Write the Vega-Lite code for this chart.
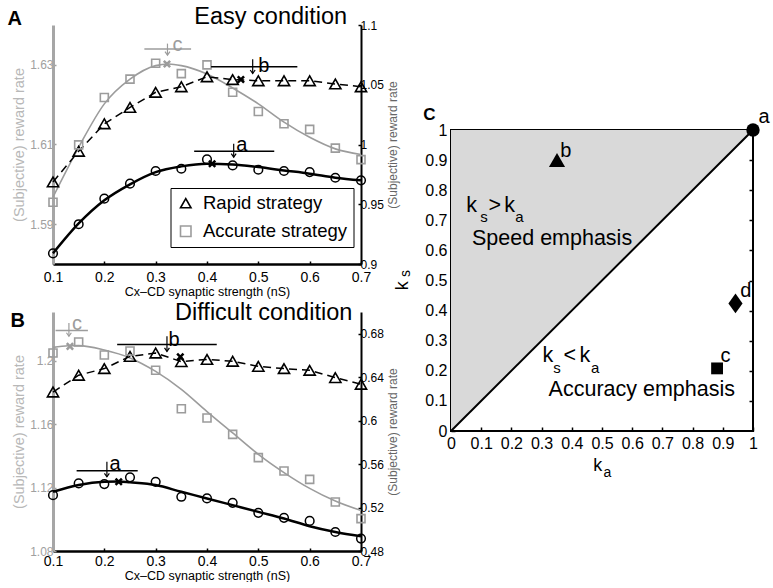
{
"$schema": "https://vega.github.io/schema/vega-lite/v6.json",
"padding": {"left": 7, "top": 4, "right": 0, "bottom": 0},
"background": "white",
"config": {
  "font": "Liberation Sans",
  "view": {"stroke": null},
  "axis": {"grid": false, "labelFlush": false, "labelOverlap": false, "titleFontWeight": "normal", "labelColor": "black", "titleColor": "black", "domainColor": "black", "tickColor": "black", "labelFont": "Liberation Sans", "titleFont": "Liberation Sans"}
},
"datasets": {
  "A_pts": [
    {"x":0.1,"y":1.6006,"s":"Rapid strategy"},{"x":0.15,"y":1.6083,"s":"Rapid strategy"},{"x":0.2,"y":1.6152,"s":"Rapid strategy"},{"x":0.25,"y":1.6193,"s":"Rapid strategy"},{"x":0.3,"y":1.6231,"s":"Rapid strategy"},{"x":0.35,"y":1.6245,"s":"Rapid strategy"},{"x":0.4,"y":1.627,"s":"Rapid strategy"},{"x":0.45,"y":1.6263,"s":"Rapid strategy"},{"x":0.5,"y":1.626,"s":"Rapid strategy"},{"x":0.55,"y":1.626,"s":"Rapid strategy"},{"x":0.6,"y":1.626,"s":"Rapid strategy"},{"x":0.65,"y":1.6252,"s":"Rapid strategy"},{"x":0.7,"y":1.6245,"s":"Rapid strategy"},
    {"x":0.1,"y":1.5955,"s":"Accurate strategy"},{"x":0.15,"y":1.6099,"s":"Accurate strategy"},{"x":0.2,"y":1.6218,"s":"Accurate strategy"},{"x":0.25,"y":1.6264,"s":"Accurate strategy"},{"x":0.3,"y":1.6304,"s":"Accurate strategy"},{"x":0.35,"y":1.6278,"s":"Accurate strategy"},{"x":0.4,"y":1.63,"s":"Accurate strategy"},{"x":0.45,"y":1.6231,"s":"Accurate strategy"},{"x":0.5,"y":1.6183,"s":"Accurate strategy"},{"x":0.55,"y":1.6152,"s":"Accurate strategy"},{"x":0.6,"y":1.6138,"s":"Accurate strategy"},{"x":0.65,"y":1.6091,"s":"Accurate strategy"},{"x":0.7,"y":1.6062,"s":"Accurate strategy"}
  ],
  "A_gc": [
    {"x":0.1,"y":1.5968},{"x":0.15,"y":1.6093},{"x":0.2,"y":1.6202},{"x":0.25,"y":1.6264},{"x":0.3,"y":1.6298},{"x":0.325,"y":1.6302},{"x":0.35,"y":1.6298},{"x":0.4,"y":1.6277},{"x":0.45,"y":1.6242},{"x":0.5,"y":1.6202},{"x":0.55,"y":1.6156},{"x":0.6,"y":1.6118},{"x":0.65,"y":1.6089},{"x":0.7,"y":1.6075}
  ],
  "A_circ": [
    {"x":0.1,"y":0.9089},{"x":0.15,"y":0.9333},{"x":0.2,"y":0.9547},{"x":0.25,"y":0.9672},{"x":0.3,"y":0.9778},{"x":0.35,"y":0.9797},{"x":0.4,"y":0.9875},{"x":0.45,"y":0.9825},{"x":0.5,"y":0.9789},{"x":0.55,"y":0.9778},{"x":0.6,"y":0.9769},{"x":0.65,"y":0.9722},{"x":0.7,"y":0.97}
  ],
  "A_bc": [
    {"x":0.1,"y":0.9089},{"x":0.15,"y":0.9339},{"x":0.2,"y":0.9533},{"x":0.25,"y":0.9667},{"x":0.3,"y":0.9769},{"x":0.35,"y":0.9817},{"x":0.4,"y":0.9839},{"x":0.45,"y":0.9833},{"x":0.5,"y":0.9811},{"x":0.55,"y":0.9783},{"x":0.6,"y":0.9756},{"x":0.65,"y":0.9722},{"x":0.7,"y":0.97}
  ],
  "B_pts": [
    {"x":0.1,"y":1.1803,"s":"Rapid strategy"},{"x":0.15,"y":1.1909,"s":"Rapid strategy"},{"x":0.2,"y":1.1951,"s":"Rapid strategy"},{"x":0.25,"y":1.2028,"s":"Rapid strategy"},{"x":0.3,"y":1.2049,"s":"Rapid strategy"},{"x":0.35,"y":1.1995,"s":"Rapid strategy"},{"x":0.4,"y":1.2009,"s":"Rapid strategy"},{"x":0.45,"y":1.1997,"s":"Rapid strategy"},{"x":0.5,"y":1.1965,"s":"Rapid strategy"},{"x":0.55,"y":1.1951,"s":"Rapid strategy"},{"x":0.6,"y":1.194,"s":"Rapid strategy"},{"x":0.65,"y":1.1894,"s":"Rapid strategy"},{"x":0.7,"y":1.1852,"s":"Rapid strategy"},
    {"x":0.1,"y":1.2049,"s":"Accurate strategy"},{"x":0.15,"y":1.2119,"s":"Accurate strategy"},{"x":0.2,"y":1.2037,"s":"Accurate strategy"},{"x":0.25,"y":1.2062,"s":"Accurate strategy"},{"x":0.3,"y":1.194,"s":"Accurate strategy"},{"x":0.35,"y":1.1698,"s":"Accurate strategy"},{"x":0.4,"y":1.1639,"s":"Accurate strategy"},{"x":0.45,"y":1.1536,"s":"Accurate strategy"},{"x":0.5,"y":1.1389,"s":"Accurate strategy"},{"x":0.55,"y":1.1305,"s":"Accurate strategy"},{"x":0.6,"y":1.1252,"s":"Accurate strategy"},{"x":0.65,"y":1.1109,"s":"Accurate strategy"},{"x":0.7,"y":1.1004,"s":"Accurate strategy"}
  ],
  "B_gc": [
    {"x":0.1,"y":1.2085},{"x":0.13,"y":1.2095},{"x":0.15,"y":1.2096},{"x":0.2,"y":1.2068},{"x":0.25,"y":1.2018},{"x":0.3,"y":1.1933},{"x":0.35,"y":1.182},{"x":0.4,"y":1.168},{"x":0.45,"y":1.1545},{"x":0.5,"y":1.141},{"x":0.55,"y":1.1295},{"x":0.6,"y":1.1195},{"x":0.65,"y":1.1115},{"x":0.7,"y":1.1055}
  ],
  "B_circ": [
    {"x":0.1,"y":0.5314},{"x":0.15,"y":0.5422},{"x":0.2,"y":0.5416},{"x":0.25,"y":0.5478},{"x":0.3,"y":0.5437},{"x":0.35,"y":0.5299},{"x":0.4,"y":0.5284},{"x":0.45,"y":0.5243},{"x":0.5,"y":0.5151},{"x":0.55,"y":0.5105},{"x":0.6,"y":0.5077},{"x":0.65,"y":0.4975},{"x":0.7,"y":0.4914}
  ],
  "B_bc": [
    {"x":0.1,"y":0.5345},{"x":0.15,"y":0.5407},{"x":0.2,"y":0.5437},{"x":0.228,"y":0.544},{"x":0.25,"y":0.5432},{"x":0.3,"y":0.5407},{"x":0.35,"y":0.5345},{"x":0.4,"y":0.5284},{"x":0.45,"y":0.5222},{"x":0.5,"y":0.516},{"x":0.55,"y":0.5099},{"x":0.6,"y":0.5028},{"x":0.65,"y":0.4975},{"x":0.7,"y":0.4936}
  ]
},
"bounds": "flush",
"spacing": 398,
"resolve": {"scale": {"shape": "independent", "stroke": "independent", "color": "independent", "size": "independent"}},
"hconcat": [
 {"vconcat": [
  {
   "width": 308, "height": 239,
   "encoding": {"x": {"field":"x","type":"quantitative","scale":{"domain":[0.1,0.7],"nice":false,"zero":false},"axis":{"values":[0.1,0.2,0.3,0.4,0.5,0.6,0.7],"format":".1f","labelFontSize":14,"labelPadding":9,"tickSize":-3,"tickWidth":1.5,"domainWidth":2.5,"title":"Cx–CD synaptic strength (nS)","titleFontSize":12.5,"titlePadding":1}}},
   "layer": [
    {"encoding": {"y": {"field":"y","type":"quantitative","scale":{"domain":[1.58,1.64],"nice":false,"zero":false},"axis":{"orient":"left","values":[1.59,1.61,1.63],"format":".2f","labelColor":"#a0a0a0","labelFontSize":12,"tickColor":"#a0a0a0","tickSize":-3,"tickWidth":1.5,"domainColor":"#a6a6a6","domainWidth":3,"labelPadding":3,"title":"(Subjective) reward rate","titleColor":"#b8b8b8","titleFontSize":14.5,"titlePadding":3}}},
     "layer": [
      {"data":{"name":"A_gc"},"mark":{"type":"line","stroke":"#9c9c9c","strokeWidth":1.6,"interpolate":"monotone"}},
      {"data":{"name":"A_pts"},"transform":[{"filter":"datum.s==='Rapid strategy'"}],"mark":{"type":"line","stroke":"black","strokeWidth":1.5,"strokeDash":[8,5]}},
      {"data":{"name":"A_pts"},"transform":[{"filter":"datum.s==='Rapid strategy'"}],"mark":{"type":"point","size":125,"strokeWidth":1.6,"opacity":1},
       "encoding":{"shape":{"field":"s","type":"nominal","scale":{"domain":["Rapid strategy","Accurate strategy"],"range":["triangle-up","square"]},"legend":{"title":null,"orient":"none","legendX":117.5,"legendY":163,"strokeColor":"black","fillColor":"white","padding":6,"labelFontSize":18.5,"labelFont":"Liberation Sans","labelColor":"black","symbolSize":110,"symbolStrokeWidth":1.6,"rowPadding":9,"labelOffset":8,"labelLimit":0}},
                   "stroke":{"field":"s","type":"nominal","scale":{"domain":["Rapid strategy","Accurate strategy"],"range":["black","#9c9c9c"]},"legend":{"title":null,"orient":"none","legendX":117.5,"legendY":163,"strokeColor":"black","fillColor":"white","padding":6,"labelFontSize":18.5,"labelFont":"Liberation Sans","labelColor":"black","symbolSize":110,"symbolStrokeWidth":1.6,"rowPadding":9,"labelOffset":8,"labelLimit":0}}}},
      {"data":{"name":"A_pts"},"transform":[{"filter":"datum.s==='Accurate strategy'"}],"mark":{"type":"point","size":64,"strokeWidth":1.6,"opacity":1},
       "encoding":{"shape":{"field":"s","type":"nominal","scale":{"domain":["Rapid strategy","Accurate strategy"],"range":["triangle-up","square"]},"legend":{"title":null,"orient":"none","legendX":117.5,"legendY":163,"strokeColor":"black","fillColor":"white","padding":6,"labelFontSize":18.5,"labelFont":"Liberation Sans","labelColor":"black","symbolSize":110,"symbolStrokeWidth":1.6,"rowPadding":9,"labelOffset":8,"labelLimit":0}},
                   "stroke":{"field":"s","type":"nominal","scale":{"domain":["Rapid strategy","Accurate strategy"],"range":["black","#9c9c9c"]},"legend":{"title":null,"orient":"none","legendX":117.5,"legendY":163,"strokeColor":"black","fillColor":"white","padding":6,"labelFontSize":18.5,"labelFont":"Liberation Sans","labelColor":"black","symbolSize":110,"symbolStrokeWidth":1.6,"rowPadding":9,"labelOffset":8,"labelLimit":0}}}},
      {"data":{"values":[{"x":0.322,"y":1.6302}]},"mark":{"type":"point","shape":"M-1,-1L1,1M-1,1L1,-1","stroke":"#9c9c9c","strokeWidth":2.5,"size":40,"opacity":1}},
      {"data":{"values":[{"x":0.466,"y":1.6263}]},"mark":{"type":"point","shape":"M-1,-1L1,1M-1,1L1,-1","stroke":"black","strokeWidth":2.5,"size":40,"opacity":1}},
      {"data":{"values":[{"x":0.278,"x2":0.369,"y":1.634}]},"mark":{"type":"rule","stroke":"#9c9c9c","strokeWidth":1.5},"encoding":{"x2":{"field":"x2"}}},
      {"data":{"values":[{"x":0.323,"y":1.63533,"y2":1.63243}]},"mark":{"type":"rule","stroke":"#9c9c9c","strokeWidth":1.2},"encoding":{"y2":{"field":"y2"}}},
      {"data":{"values":[{"x":0.323,"y":1.63243}]},"mark":{"type":"point","shape":"M-0.7,-1L0,0L0.7,-1","stroke":"#9c9c9c","strokeWidth":1.2,"size":49,"opacity":1}},
      {"data":{"values":[{"x":0.333,"y":1.6335,"t":"c"}]},"mark":{"type":"text","fontSize":20,"color":"#9c9c9c","align":"left","baseline":"alphabetic"},"encoding":{"text":{"field":"t"}}},
      {"data":{"values":[{"x":0.673,"y":1.6403,"t":"Easy condition"}]},"mark":{"type":"text","fontSize":23.5,"align":"right","baseline":"alphabetic","color":"black"},"encoding":{"text":{"field":"t"}}},
      {"data":{"values":[{"x":0.0115,"y":1.6399,"t":"A"}]},"mark":{"type":"text","fontSize":20,"fontWeight":"bold","align":"left","baseline":"alphabetic","color":"black"},"encoding":{"text":{"field":"t"}}}
     ]},
    {"encoding": {"y": {"field":"y","type":"quantitative","scale":{"domain":[0.9,1.1],"nice":false,"zero":false},"axis":{"orient":"right","values":[0.9,0.95,1,1.05,1.1],"format":"~g","labelFontSize":12,"tickSize":-3,"tickWidth":1.5,"domainWidth":2,"labelPadding":2,"title":"(Subjective) reward rate","titleColor":"#666666","titleFontSize":12,"titleAngle":270,"titlePadding":16}}},
     "layer": [
      {"data":{"name":"A_bc"},"mark":{"type":"line","stroke":"black","strokeWidth":2.5,"interpolate":"monotone"}},
      {"data":{"name":"A_circ"},"mark":{"type":"point","shape":"circle","size":75,"stroke":"black","strokeWidth":1.5,"opacity":1}},
      {"data":{"values":[{"x":0.41,"y":0.9839}]},"mark":{"type":"point","shape":"M-1,-1L1,1M-1,1L1,-1","stroke":"black","strokeWidth":2.5,"size":40,"opacity":1}},
      {"data":{"values":[{"x":0.408,"x2":0.576,"y":1.065},{"x":0.375,"x2":0.531,"y":0.9944}]},"mark":{"type":"rule","stroke":"black","strokeWidth":1.5},"encoding":{"x2":{"field":"x2"}}},
      {"data":{"values":[{"x":0.489,"y":1.0714,"y2":1.0594},{"x":0.452,"y":1.0006,"y2":0.9894}]},"mark":{"type":"rule","stroke":"black","strokeWidth":1.2},"encoding":{"y2":{"field":"y2"}}},
      {"data":{"values":[{"x":0.489,"y":1.0594},{"x":0.452,"y":0.9894}]},"mark":{"type":"point","shape":"M-0.7,-1L0,0L0.7,-1","stroke":"black","strokeWidth":1.2,"size":49,"opacity":1}},
      {"data":{"values":[{"x":0.5,"y":1.0608,"t":"b"},{"x":0.457,"y":0.9944,"t":"a"}]},"mark":{"type":"text","fontSize":20,"color":"black","align":"left","baseline":"alphabetic"},"encoding":{"text":{"field":"t"}}}
     ]}
   ],
   "resolve": {"scale": {"y": "independent"}}
  },
  {
   "width": 308, "height": 239,
   "encoding": {"x": {"field":"x","type":"quantitative","scale":{"domain":[0.1,0.7],"nice":false,"zero":false},"axis":{"values":[0.1,0.2,0.3,0.4,0.5,0.6,0.7],"format":".1f","labelFontSize":14,"labelPadding":6,"tickSize":-3,"tickWidth":1.5,"domainWidth":2.5,"title":"Cx–CD synaptic strength (nS)","titleFontSize":12.5,"titlePadding":1}}},
   "layer": [
    {"encoding": {"y": {"field":"y","type":"quantitative","scale":{"domain":[1.08,1.2308],"nice":false,"zero":false},"axis":{"orient":"left","values":[1.08,1.12,1.16,1.2],"format":"~g","labelColor":"#a0a0a0","labelFontSize":12,"tickColor":"#a0a0a0","tickSize":-3,"tickWidth":1.5,"domainColor":"#a6a6a6","domainWidth":3,"labelPadding":3,"title":"(Subjective) reward rate","titleColor":"#b8b8b8","titleFontSize":14.5,"titlePadding":3}}},
     "layer": [
      {"data":{"name":"B_gc"},"mark":{"type":"line","stroke":"#9c9c9c","strokeWidth":1.6,"interpolate":"monotone"}},
      {"data":{"name":"B_pts"},"transform":[{"filter":"datum.s==='Rapid strategy'"}],"mark":{"type":"line","stroke":"black","strokeWidth":1.5,"strokeDash":[8,5]}},
      {"data":{"name":"B_pts"},"transform":[{"filter":"datum.s==='Rapid strategy'"}],"mark":{"type":"point","shape":"triangle-up","size":125,"stroke":"black","strokeWidth":1.6,"opacity":1}},
      {"data":{"name":"B_pts"},"transform":[{"filter":"datum.s==='Accurate strategy'"}],"mark":{"type":"point","shape":"square","size":64,"stroke":"#9c9c9c","strokeWidth":1.6,"opacity":1}},
      {"data":{"values":[{"x":0.133,"y":1.2091}]},"mark":{"type":"point","shape":"M-1,-1L1,1M-1,1L1,-1","stroke":"#9c9c9c","strokeWidth":2.5,"size":40,"opacity":1}},
      {"data":{"values":[{"x":0.348,"y":1.2025}]},"mark":{"type":"point","shape":"M-1,-1L1,1M-1,1L1,-1","stroke":"black","strokeWidth":2.5,"size":40,"opacity":1}},
      {"data":{"values":[{"x":0.105,"x2":0.168,"y":1.2192}]},"mark":{"type":"rule","stroke":"#9c9c9c","strokeWidth":1.5},"encoding":{"x2":{"field":"x2"}}},
      {"data":{"values":[{"x":0.131,"y":1.2239,"y2":1.2155}]},"mark":{"type":"rule","stroke":"#9c9c9c","strokeWidth":1.2},"encoding":{"y2":{"field":"y2"}}},
      {"data":{"values":[{"x":0.131,"y":1.2155}]},"mark":{"type":"point","shape":"M-0.7,-1L0,0L0.7,-1","stroke":"#9c9c9c","strokeWidth":1.2,"size":49,"opacity":1}},
      {"data":{"values":[{"x":0.137,"y":1.2192,"t":"c"}]},"mark":{"type":"text","fontSize":20,"color":"#9c9c9c","align":"left","baseline":"alphabetic"},"encoding":{"text":{"field":"t"}}},
      {"data":{"values":[{"x":0.683,"y":1.2256,"t":"Difficult condition"}]},"mark":{"type":"text","fontSize":23.5,"align":"right","baseline":"alphabetic","color":"black"},"encoding":{"text":{"field":"t"}}},
      {"data":{"values":[{"x":0.0173,"y":1.2211,"t":"B"}]},"mark":{"type":"text","fontSize":20,"fontWeight":"bold","align":"left","baseline":"alphabetic","color":"black"},"encoding":{"text":{"field":"t"}}}
     ]},
    {"encoding": {"y": {"field":"y","type":"quantitative","scale":{"domain":[0.48,0.7],"nice":false,"zero":false},"axis":{"orient":"right","values":[0.48,0.52,0.56,0.6,0.64,0.68],"format":"~g","labelFontSize":12,"tickSize":-3,"tickWidth":1.5,"domainWidth":2,"labelPadding":2,"title":"(Subjective) reward rate","titleColor":"#666666","titleFontSize":12,"titleAngle":270,"titlePadding":16}}},
     "layer": [
      {"data":{"name":"B_bc"},"mark":{"type":"line","stroke":"black","strokeWidth":2.5,"interpolate":"monotone"}},
      {"data":{"name":"B_circ"},"mark":{"type":"point","shape":"circle","size":75,"stroke":"black","strokeWidth":1.5,"opacity":1}},
      {"data":{"values":[{"x":0.228,"y":0.5437}]},"mark":{"type":"point","shape":"M-1,-1L1,1M-1,1L1,-1","stroke":"black","strokeWidth":2.5,"size":40,"opacity":1}},
      {"data":{"values":[{"x":0.225,"x2":0.419,"y":0.67},{"x":0.146,"x2":0.265,"y":0.5539}]},"mark":{"type":"rule","stroke":"black","strokeWidth":1.5},"encoding":{"x2":{"field":"x2"}}},
      {"data":{"values":[{"x":0.322,"y":0.6776,"y2":0.6637},{"x":0.205,"y":0.5622,"y2":0.5483}]},"mark":{"type":"rule","stroke":"black","strokeWidth":1.2},"encoding":{"y2":{"field":"y2"}}},
      {"data":{"values":[{"x":0.322,"y":0.6637},{"x":0.205,"y":0.5483}]},"mark":{"type":"point","shape":"M-0.7,-1L0,0L0.7,-1","stroke":"black","strokeWidth":1.2,"size":49,"opacity":1}},
      {"data":{"values":[{"x":0.325,"y":0.669,"t":"b"},{"x":0.21,"y":0.5545,"t":"a"}]},"mark":{"type":"text","fontSize":20,"color":"black","align":"left","baseline":"alphabetic"},"encoding":{"text":{"field":"t"}}}
     ]}
   ],
   "resolve": {"scale": {"y": "independent"}}
  }
 ], "spacing": 48, "bounds": "flush"},
 {"vconcat": [
  {"width": 302, "height": 95, "data": {"values": [{"x": 0}]}, "mark": {"type": "point", "opacity": 0}},
  {
   "width": 302, "height": 301,
   "view": {"stroke": "black", "strokeWidth": 2},
   "layer": [
    {
     "encoding": {
       "x": {"field":"x","type":"quantitative","scale":{"domain":[0,1],"nice":false,"zero":false},"axis":{"values":[0,0.1,0.2,0.3,0.4,0.5,0.6,0.7,0.8,0.9,1],"format":"~g","labelFontSize":16,"tickSize":-4,"tickWidth":1.5,"domain":false,"labelPadding":8,"title":null}},
       "y": {"field":"y","type":"quantitative","scale":{"domain":[0,1],"nice":false,"zero":false},"axis":{"values":[0,0.1,0.2,0.3,0.4,0.5,0.6,0.7,0.8,0.9,1],"format":"~g","labelFontSize":16,"tickSize":-4,"tickWidth":1.5,"domain":false,"labelPadding":8,"title":null}}
     },
     "layer": [
      {"data":{"values":[{"x":0,"y":0,"y2":1},{"x":1,"y":1,"y2":1}]},"mark":{"type":"area","fill":"#d9d9d9","opacity":1},"encoding":{"y2":{"field":"y2"}}},
      {"data":{"values":[{"x":0,"y":0},{"x":1,"y":1}]},"mark":{"type":"line","stroke":"black","strokeWidth":2}},
      {"data":{"values":[{"x":1,"y":1}]},"mark":{"type":"point","shape":"circle","filled":true,"color":"black","size":180,"opacity":1}},
      {"data":{"values":[{"x":0.351,"y":0.9}]},"mark":{"type":"point","shape":"triangle-up","filled":true,"color":"black","size":260,"opacity":1}},
      {"data":{"values":[{"x":0.881,"y":0.208}]},"mark":{"type":"point","shape":"square","filled":true,"color":"black","size":140,"opacity":1}},
      {"data":{"values":[{"x":0.942,"y":0.424}]},"mark":{"type":"point","shape":"M0,-1.4L1,0L0,1.4L-1,0Z","filled":true,"color":"black","size":200,"opacity":1}},
      {"data":{"values":[{"x":0.0507,"y":0.7286,"t":"k"},{"x":0.1245,"y":0.7286,"t":">"},{"x":0.1765,"y":0.7286,"t":"k"},{"x":0.3033,"y":0.2302,"t":"k"},{"x":0.3725,"y":0.2302,"t":"<"},{"x":0.4258,"y":0.2302,"t":"k"},{"x":0.0695,"y":0.618,"t":"Speed emphasis"},{"x":0.3232,"y":0.1163,"t":"Accuracy emphasis"}]},
       "mark":{"type":"text","fontSize":21.5,"align":"left","baseline":"alphabetic","color":"black"},"encoding":{"text":{"field":"t"}}},
      {"data":{"values":[{"x":0.097,"y":0.6954,"t":"s"},{"x":0.2129,"y":0.6954,"t":"a"},{"x":0.3388,"y":0.1937,"t":"s"},{"x":0.4636,"y":0.1937,"t":"a"}]},
       "mark":{"type":"text","fontSize":15,"align":"left","baseline":"alphabetic","color":"black"},"encoding":{"text":{"field":"t"}}},
      {"data":{"values":[{"x":1.0185,"y":1.023,"t":"a"},{"x":0.362,"y":0.911,"t":"b"},{"x":0.892,"y":0.23,"t":"c"},{"x":0.958,"y":0.446,"t":"d"}]},
       "mark":{"type":"text","fontSize":20,"align":"left","baseline":"alphabetic","color":"black"},"encoding":{"text":{"field":"t"}}},
      {"data":{"values":[{"x":0.471,"y":-0.133,"t":"k"}]},"mark":{"type":"text","fontSize":18,"align":"left","baseline":"alphabetic","color":"black"},"encoding":{"text":{"field":"t"}}},
      {"data":{"values":[{"x":0.505,"y":-0.153,"t":"a"}]},"mark":{"type":"text","fontSize":14,"align":"left","baseline":"alphabetic","color":"black"},"encoding":{"text":{"field":"t"}}},
      {"data":{"values":[{"x":-0.141,"y":0.468,"t":"k"}]},"mark":{"type":"text","fontSize":18,"angle":270,"align":"left","baseline":"alphabetic","color":"black"},"encoding":{"text":{"field":"t"}}},
      {"data":{"values":[{"x":-0.135,"y":0.512,"t":"s"}]},"mark":{"type":"text","fontSize":14,"angle":270,"align":"left","baseline":"alphabetic","color":"black"},"encoding":{"text":{"field":"t"}}},
      {"data":{"values":[{"x":-0.092,"y":1.033,"t":"C"}]},"mark":{"type":"text","fontSize":17,"fontWeight":"bold","align":"left","baseline":"alphabetic","color":"black"},"encoding":{"text":{"field":"t"}}}
     ]
    },
    {
     "data":{"values":[{"x":0,"y":0}]},
     "mark":{"type":"point","opacity":0},
     "encoding": {
       "x": {"field":"x","type":"quantitative","axis":{"orient":"top","values":[0.1,0.2,0.3,0.4,0.5,0.6,0.7,0.8,0.9],"labels":false,"tickSize":-4,"tickWidth":1.5,"domain":false,"title":null}},
       "y": {"field":"y","type":"quantitative","axis":{"orient":"right","values":[0.1,0.2,0.3,0.4,0.5,0.6,0.7,0.8,0.9],"labels":false,"tickSize":-4,"tickWidth":1.5,"domain":false,"title":null}}
     }
    }
   ],
   "resolve": {"axis": {"x": "independent", "y": "independent"}}
  }
 ], "spacing": 10, "bounds": "flush"}
]
}
